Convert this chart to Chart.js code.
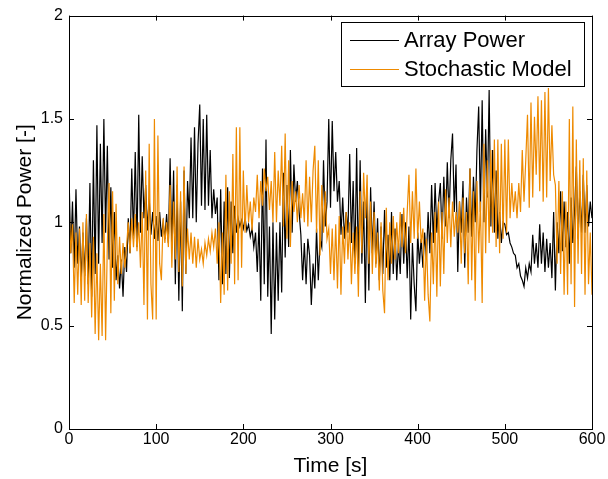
<!DOCTYPE html>
<html>
<head>
<meta charset="utf-8">
<script src="https://cdn.jsdelivr.net/npm/chart.js@4.4.1/dist/chart.umd.min.js"></script>
<style>
  html, body { margin: 0; padding: 0; background: #fff; }
  #wrap { width: 608px; height: 479px; }
</style>
</head>
<body>
<div id="wrap"><canvas id="powerChart" width="608" height="479"></canvas></div>
<script>
// one sample every 2 s, 0..600 s
const sampleStep = 2;

const arrayPower = [
  1.24,0.85,1.10,0.78,1.16, 0.80,0.98,0.72,0.95,0.74,
  1.02,0.70,1.19,0.64,1.30, 0.75,1.47,0.80,1.38,0.90,
  1.50,0.95,1.37,0.82,1.17, 0.78,1.05,0.72,0.84,0.68,
  0.82,0.64,0.88,0.76,1.02, 0.85,1.26,0.92,1.34,0.88,
  1.52,0.95,1.32,1.02,1.18, 0.96,1.12,0.94,1.05,0.92,
  1.03,0.91,1.05,0.93,1.00, 0.92,1.04,0.90,1.31,0.88,
  1.25,0.70,1.18,0.62,1.10, 0.57,1.25,0.75,1.20,1.02,
  1.41,1.02,1.46,1.00,1.38, 1.57,1.08,1.50,1.06,1.52,
  1.08,1.35,1.02,1.16,1.04, 1.12,0.72,1.16,0.70,1.10,
  0.75,1.17,0.73,1.10,0.85, 1.08,0.95,1.02,0.98,1.01,
  0.97,1.02,0.96,0.99,0.93, 0.97,0.88,0.95,0.76,1.00,
  0.62,1.26,0.70,1.40,0.64, 0.98,0.46,1.00,0.53,0.95,
  0.62,1.00,0.66,1.24,0.83, 1.18,0.88,1.35,0.95,1.28,
  1.10,1.20,1.05,0.94,0.72, 0.90,0.70,0.92,0.84,0.60,
  0.80,0.68,0.97,0.72,0.92, 0.88,1.30,0.98,1.10,1.50,
  1.07,1.49,1.15,1.34,1.10, 1.20,0.94,1.12,0.92,1.05,
  0.95,1.33,0.90,1.20,0.80, 1.36,0.75,1.30,0.80,1.10,
  0.61,1.15,0.67,1.17,0.85, 1.10,0.80,1.02,0.72,0.98,
  0.75,1.06,0.78,0.94,0.72, 1.05,0.75,0.97,0.72,0.90,
  0.75,1.04,0.80,1.00,0.73, 0.98,0.53,0.90,0.70,0.57,
  0.95,0.80,0.92,0.78,0.95, 0.82,1.05,0.85,1.18,0.90,
  1.19,0.95,1.10,1.19,0.92, 1.22,0.98,1.29,1.02,1.30,
  1.43,1.05,1.28,0.76,1.10, 0.95,1.20,0.78,1.12,0.95,
  1.26,0.93,1.22,1.00,1.35, 1.56,1.05,1.59,1.00,1.45,
  1.12,1.64,0.98,1.35,0.95, 1.25,0.92,1.05,0.90,1.00,
  0.99,0.94,0.95,0.90,0.88, 0.85,0.84,0.78,0.80,0.74,
  0.72,0.69,0.78,0.73,0.80, 0.76,0.94,0.80,0.90,0.78,
  0.99,0.80,0.95,0.76,0.92, 0.78,0.90,0.73,1.05,0.67,
  1.00,0.85,1.15,0.86,1.10, 0.88,1.05,0.80,1.12,0.90,
  1.05,1.27,0.92,1.15,0.95, 1.23,0.95,1.18,0.98,1.10,
  1.02
];

const stochasticModel = [
  1.08,0.85,0.99,0.61,0.95, 0.65,0.97,0.60,1.00,0.62,
  1.04,0.61,0.90,0.54,0.93, 0.46,0.85,0.43,0.80,0.45,
  1.04,0.43,0.90,1.19,0.56, 1.15,0.62,1.09,0.70,0.93,
  0.75,0.90,0.78,0.88,1.00, 0.85,1.02,0.88,1.04,0.86,
  1.00,0.78,1.05,0.60,1.25, 0.53,1.38,0.70,0.53,1.50,
  0.53,1.42,0.80,0.72,1.02, 0.90,1.00,0.88,1.18,0.78,
  1.10,0.82,1.27,0.76,1.15, 0.69,1.27,0.75,0.97,0.82,
  0.95,0.80,0.93,0.78,0.92, 0.82,0.87,0.80,0.90,0.84,
  0.92,0.86,0.95,0.88,0.97, 0.80,1.00,0.61,0.95,0.65,
  1.23,0.67,1.15,0.80,1.33, 0.70,1.46,0.72,1.46,0.78,
  1.25,0.95,1.18,1.00,1.10, 0.96,1.12,1.05,1.23,1.02,
  1.20,1.08,1.26,1.15,1.22, 1.06,1.20,1.00,1.34,1.00,
  1.25,1.08,1.37,0.98,1.43, 0.92,1.30,0.88,1.20,1.05,
  1.15,1.00,1.18,1.02,1.14, 1.00,1.30,0.98,1.22,1.00,
  1.25,1.37,0.95,1.30,0.84, 1.18,0.95,1.15,0.92,0.97,
  0.75,0.97,0.72,0.99,0.68, 1.03,0.65,0.98,0.80,1.05,
  0.82,1.00,0.70,0.95,0.75, 0.98,0.64,1.15,0.85,1.24,
  1.02,1.23,0.80,1.10,0.75, 1.05,0.78,0.95,0.67,1.00,
  0.67,0.56,1.07,0.72,1.00, 0.80,1.03,0.82,1.00,0.85,
  1.05,0.88,1.07,0.85,1.05, 1.23,0.90,1.15,0.92,1.26,
  0.92,1.10,0.90,0.97,0.62, 0.92,0.65,0.52,0.95,0.70,
  1.05,0.64,1.10,0.69,1.05, 0.75,1.16,0.90,1.12,0.88,
  1.10,0.93,1.05,0.95,1.10, 0.80,1.12,0.85,1.05,0.70,
  1.26,0.72,1.15,0.62,1.20, 0.85,1.10,0.61,1.38,0.85,
  1.30,0.90,1.35,0.95,1.40, 0.88,1.40,0.85,1.38,0.92,
  1.40,0.95,1.40,1.02,1.19, 1.05,1.15,1.02,1.19,1.05,
  1.35,1.10,1.30,1.52,1.07, 1.58,1.12,1.51,1.23,1.61,
  1.15,1.59,1.10,1.63,1.12, 1.65,1.20,1.47,1.23,1.18,
  0.80,1.20,0.75,1.15,0.65, 1.10,0.65,1.50,0.70,1.56,
  0.59,1.40,0.80,1.30,0.75, 1.31,0.65,1.25,0.70,0.95,
  0.65
];

const seriesNames = ["Array Power", "Stochastic Model"];
const seriesColors = ["#000000", "#EE8A00"];
const xTicks = [0, 100, 200, 300, 400, 500, 600];
const yTicks = [0, 0.5, 1, 1.5, 2];

const toPoints = arr => arr.map((v, i) => ({ x: i * sampleStep, y: v }));

// matlab style box + inward ticks + legend inside the axes
const matlabAxes = {
  id: "matlabAxes",
  afterDraw(chart) {
    const ctx = chart.ctx;
    const a = chart.chartArea;
    const xs = chart.scales.x, ys = chart.scales.y;
    const tl = 5;
    ctx.save();
    ctx.strokeStyle = "#000";
    ctx.lineWidth = 1;
    ctx.beginPath();
    xTicks.forEach(t => {
      const px = Math.round(xs.getPixelForValue(t)) + 0.5;
      ctx.moveTo(px, a.bottom); ctx.lineTo(px, a.bottom - tl);
      ctx.moveTo(px, a.top); ctx.lineTo(px, a.top + tl);
    });
    yTicks.forEach(t => {
      const py = Math.round(ys.getPixelForValue(t)) + 0.5;
      ctx.moveTo(a.left, py); ctx.lineTo(a.left + tl, py);
      ctx.moveTo(a.right, py); ctx.lineTo(a.right - tl, py);
    });
    ctx.stroke();
    ctx.strokeRect(Math.round(a.left) + 0.5, Math.round(a.top) + 0.5,
      Math.round(a.right - a.left), Math.round(a.bottom - a.top));

    // legend
    const bx = 341.5, by = 22.5, bw = 243, bh = 64;
    ctx.fillStyle = "#fff";
    ctx.fillRect(bx, by, bw, bh);
    ctx.strokeRect(bx, by, bw, bh);
    ctx.font = "22px 'Liberation Sans', Arial, sans-serif";
    ctx.textBaseline = "middle";
    ctx.textAlign = "left";
    const rows = [40, 69];
    chart.data.datasets.forEach((ds, i) => {
      ctx.strokeStyle = ds.borderColor;
      ctx.beginPath();
      ctx.moveTo(350, rows[i] + 0.5);
      ctx.lineTo(399, rows[i] + 0.5);
      ctx.stroke();
      ctx.fillStyle = "#000";
      ctx.fillText(ds.label, 404, rows[i] + 1);
    });
    ctx.restore();
  }
};

new Chart(document.getElementById("powerChart"), {
  type: "line",
  data: {
    datasets: [
      {
        label: seriesNames[0],
        data: toPoints(arrayPower),
        borderColor: seriesColors[0],
        borderWidth: 1.2,
        pointRadius: 0,
        tension: 0,
        order: 2
      },
      {
        label: seriesNames[1],
        data: toPoints(stochasticModel),
        borderColor: seriesColors[1],
        borderWidth: 1.2,
        pointRadius: 0,
        tension: 0,
        order: 1
      }
    ]
  },
  options: {
    responsive: false,
    animation: false,
    layout: { padding: { top: 6, right: 16, left: 0, bottom: 0 } },
    plugins: {
      legend: { display: false },
      tooltip: { enabled: false }
    },
    scales: {
      x: {
        type: "linear",
        min: 0,
        max: 600,
        afterBuildTicks: s => { s.ticks = xTicks.map(v => ({ value: v })); },
        afterFit: s => { s.height = 50; },
        grid: { display: false, drawTicks: false },
        border: { display: false },
        ticks: {
          color: "#000",
          padding: 1,
          maxRotation: 0,
          callback: v => String(v),
          font: { family: "'Liberation Sans', Arial", size: 16 }
        },
        title: {
          display: true,
          text: "Time [s]",
          color: "#000",
          padding: { top: 0, bottom: 0 },
          font: { family: "'Liberation Sans', Arial", size: 21 }
        }
      },
      y: {
        min: 0,
        max: 2,
        afterBuildTicks: s => { s.ticks = yTicks.map(v => ({ value: v })); },
        afterFit: s => { s.width = 69; },
        grid: { display: false, drawTicks: false },
        border: { display: false },
        ticks: {
          color: "#000",
          padding: 6,
          callback: v => String(v),
          font: { family: "'Liberation Sans', Arial", size: 16 }
        },
        title: {
          display: true,
          text: "Normalized Power [-]",
          color: "#000",
          padding: { top: 13, bottom: 0 },
          font: { family: "'Liberation Sans', Arial", size: 21 }
        }
      }
    }
  },
  plugins: [matlabAxes]
});
</script>
</body>
</html>
